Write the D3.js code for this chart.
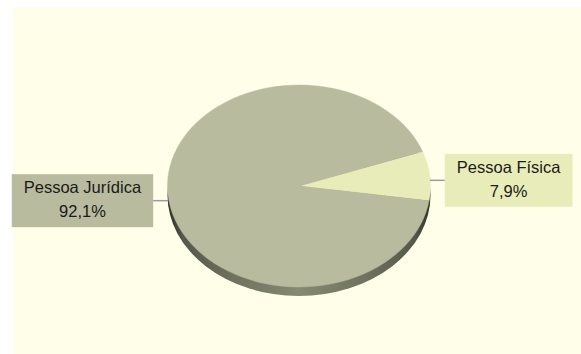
<!DOCTYPE html>
<html>
<head>
<meta charset="utf-8">
<script src="https://cdn.jsdelivr.net/npm/d3@7"></script>
<style>
  html, body { margin: 0; padding: 0; background: #ffffff; }
  svg { display: block; }
  text { font-family: "Liberation Sans", Arial, sans-serif; }
</style>
</head>
<body>
<svg id="chart" width="581" height="354"></svg>
<script>
// ---- data ----
const categories = ["Pessoa Física", "Pessoa Jurídica"];
const values = [7.9, 92.1];
const valueLabels = ["7,9%", "92,1%"];
const sliceColors = ["#e8ecb9", "#b8bb9d"];

// ---- layout ----
const W = 581, H = 354;
const svg = d3.select("#chart");

svg.append("rect").attr("x", 13).attr("y", 7).attr("width", W - 13).attr("height", H - 7)
  .attr("fill", "#fefee9");

const cx = 299, cy = 186, rx = 131.5, ry = 101, depth = 9;
const startDeg = 70;

const defs = svg.append("defs");
const grad = defs.append("linearGradient").attr("id", "side")
  .attr("x1", "0%").attr("x2", "100%").attr("y1", "0%").attr("y2", "0%");
[[0, "#2e2f25"], [0.06, "#55584a"], [0.25, "#6f725e"], [0.5, "#858970"], [0.75, "#6f725e"], [0.94, "#55584a"], [1, "#2e2f25"]]
  .forEach(([o, c]) => grad.append("stop").attr("offset", o).attr("stop-color", c));

const pie = d3.pie().sort(null).value(d => d)
  .startAngle(startDeg * Math.PI / 180)
  .endAngle((startDeg + 360) * Math.PI / 180);
const arcs = pie(values);
const arc = d3.arc().innerRadius(0).outerRadius(rx);

// side (depth) of the 3D pie
svg.append("ellipse").attr("cx", cx).attr("cy", cy + depth).attr("rx", rx).attr("ry", ry)
  .attr("fill", "url(#side)");

// top surface
const topFace = svg.append("g").attr("transform", `translate(${cx},${cy}) scale(1,${ry / rx})`);
topFace.selectAll("path").data(arcs).join("path")
  .attr("d", arc)
  .attr("fill", (d, i) => sliceColors[i])
  .attr("stroke", (d, i) => sliceColors[i])
  .attr("stroke-width", 0.5);

// labels
const fontSize = 16.5, lineGap = 24, padX = 12, gapLine = 15;
arcs.forEach((d, i) => {
  const mid = (d.startAngle + d.endAngle) / 2;
  const ax = cx + rx * Math.sin(mid);
  const ay = cy - ry * Math.cos(mid) + depth / 2;
  const right = Math.sin(mid) > 0;
  const lx = right ? ax + gapLine : ax - gapLine;

  svg.append("line").attr("x1", ax).attr("y1", ay).attr("x2", lx).attr("y2", ay)
    .attr("stroke", "#9c9c9c").attr("stroke-width", 1.5);

  const g = svg.append("g");
  const box = g.append("rect");
  const t1 = g.append("text").attr("font-size", fontSize).attr("fill", "#1a1a1a")
    .attr("text-anchor", "middle").text(categories[i]);
  const t2 = g.append("text").attr("font-size", fontSize).attr("fill", "#1a1a1a")
    .attr("text-anchor", "middle").text(valueLabels[i]);
  const tw = Math.max(t1.node().getComputedTextLength(), t2.node().getComputedTextLength());
  const bw = tw + 2 * padX, bh = 53;
  const bx = right ? lx : lx - bw;
  const by = ay - bh / 2;
  box.attr("x", bx).attr("y", by).attr("width", bw).attr("height", bh).attr("fill", sliceColors[i]);
  t1.attr("x", bx + bw / 2).attr("y", by + 19);
  t2.attr("x", bx + bw / 2).attr("y", by + 19 + lineGap);
});
</script>
</body>
</html>
